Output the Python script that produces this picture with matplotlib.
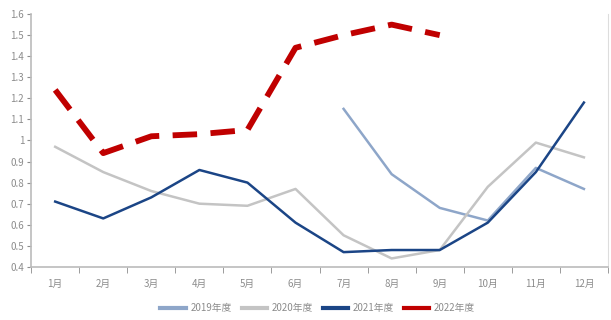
import matplotlib
matplotlib.use("Agg")
import matplotlib.pyplot as plt
from matplotlib.lines import Line2D

plt.rcParams['font.family'] = ['Noto Sans CJK SC', 'DejaVu Sans']

months = ["1月", "2月", "3月", "4月", "5月", "6月", "7月", "8月", "9月", "10月", "11月", "12月"]
s2019 = [None, None, None, None, None, None, 1.15, 0.84, 0.68, 0.62, 0.87, 0.77]
s2020 = [0.97, 0.85, 0.76, 0.70, 0.69, 0.77, 0.55, 0.44, 0.48, 0.78, 0.99, 0.92]
s2021 = [0.71, 0.63, 0.73, 0.86, 0.80, 0.61, 0.47, 0.48, 0.48, 0.61, 0.85, 1.18]
s2022 = [1.24, 0.94, 1.02, 1.03, 1.05, 1.44, 1.50, 1.55, 1.50]
labels = ["2019年度", "2020年度", "2021年度", "2022年度"]
yticks = [0.4, 0.5, 0.6, 0.7, 0.8, 0.9, 1.0, 1.1, 1.2, 1.3, 1.4, 1.5, 1.6]
ytick_labels = ["0.4", "0.5", "0.6", "0.7", "0.8", "0.9", "1", "1.1", "1.2", "1.3", "1.4", "1.5", "1.6"]

c2019 = "#8EA6C9"
c2020 = "#C4C4C4"
c2021 = "#1B4586"
c2022 = "#C00000"
gray = "#8C8C8C"

fig = plt.figure(figsize=(6.11, 3.20), dpi=100)
ax = fig.add_axes([0.051, 0.166, 0.944, 0.79])

x = list(range(len(months)))
x19 = [i for i, v in zip(x, s2019) if v is not None]
v19 = [v for v in s2019 if v is not None]
ax.plot(x19, v19, color=c2019, lw=1.8, zorder=2)
ax.plot(x, s2020, color=c2020, lw=1.8, zorder=2)
ax.plot(x, s2021, color=c2021, lw=1.8, zorder=3)
ax.plot(x[:len(s2022)], s2022, color=c2022, lw=4.2, dashes=(4.2, 2.3), zorder=4)

ax.set_xlim(-0.5, 11.5)
ax.set_ylim(0.4, 1.6)
ax.set_yticks(yticks)
ax.set_yticklabels(ytick_labels)
ax.set_xticks(x)
ax.set_xticklabels(months)
ax.set_xticks([i + 0.5 for i in range(-1, 12)], minor=True)
ax.tick_params(axis='x', which='major', length=0, pad=9, labelsize=7, colors=gray)
ax.tick_params(axis='x', which='minor', length=4, color=gray, direction='out')
ax.tick_params(axis='y', length=3, color=gray, labelsize=7, labelcolor=gray, pad=2)

ax.spines['top'].set_visible(False)
ax.spines['right'].set_color("#DDDDDD")
ax.spines['left'].set_color("#BBBBBB")
ax.spines['bottom'].set_color("#BBBBBB")
ax.spines['left'].set_linewidth(1.2)
ax.spines['bottom'].set_linewidth(1.2)

handles = [Line2D([0], [0], color=c, lw=3, linestyle='-') for c in [c2019, c2020, c2021, c2022]]
fig.legend(handles, labels, loc='center', bbox_to_anchor=(0.52, 0.037), ncol=4,
           frameon=False, fontsize=7, labelcolor=gray, handlelength=2.6,
           columnspacing=1.0, handletextpad=0.5)

fig.savefig("out.png", dpi=100)
